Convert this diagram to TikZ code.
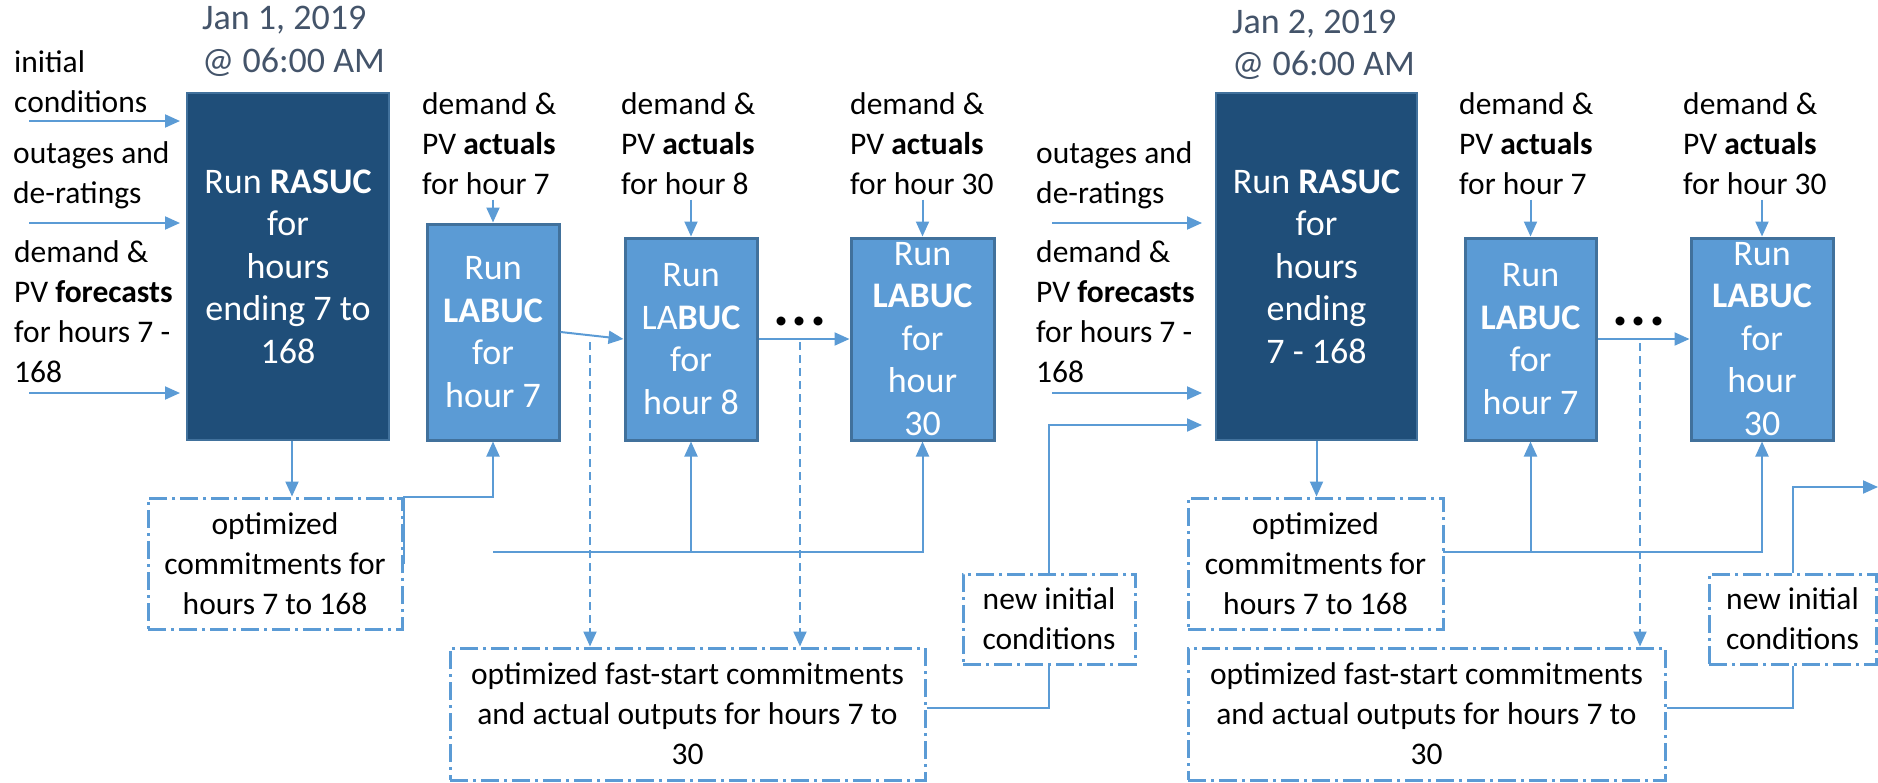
\documentclass[tikz,border=0pt]{standalone}
\usepackage{fontspec}
\setmainfont{Carlito}
\usetikzlibrary{arrows.meta,calc}
\definecolor{darkbox}{HTML}{1F4E79}
\definecolor{midblue}{HTML}{5B9BD5}
\definecolor{edgeblue}{HTML}{41719C}
\definecolor{titlegray}{HTML}{44546A}
\tikzset{
 small/.style={font=\fontsize{31.5}{40}\selectfont, inner sep=0pt},
 lbl/.style={small, align=left, anchor=west},
 big/.style={font=\fontsize{36}{42.5}\selectfont},
 ttl/.style={big, text=titlegray, align=left, anchor=west, inner sep=0pt},
 rasucbox/.style={fill=darkbox, draw=edgeblue, line width=2pt, text=white, align=center, big, inner sep=0pt},
 labucbox/.style={fill=midblue, draw=edgeblue, line width=3pt, text=white, align=center, big, inner sep=0pt},
 ddbox/.style={draw=midblue, line width=3pt, dash pattern=on 18pt off 5pt on 3pt off 5pt, small, align=center, inner sep=0pt},
 conn/.style={draw=midblue, line width=2pt},
 arr/.style={conn, -{Triangle[length=15pt,width=13pt]}},
 darr/.style={arr, dash pattern=on 8pt off 5pt},
 dotsnode/.style={font=\fontsize{60}{60}\selectfont\bfseries, inner sep=0pt, anchor=base},
}
\begin{document}
\begin{tikzpicture}[x=1pt,y=-1pt]
\useasboundingbox (0,0) rectangle (1878,782);

% ---------- first day ----------
\node[ttl] (t1) at (202,41.5) {Jan 1, 2019\\@ 06:00 AM};
\node[lbl] (a1) at (14,82) {initial\\conditions};
\node[lbl] (a2) at (13,175) {outages and\\de-ratings};
\node[lbl] (a3) at (14,312) {demand \&\\PV \textbf{forecasts}\\for hours 7 -\\168};

\node[rasucbox, minimum width=202pt, minimum height=347pt] (R1) at (288,266.5)
  {Run \textbf{RASUC}\\for\\hours\\ending 7 to\\168};

\node[lbl] (p7) at (422,144) {demand \&\\PV \textbf{actuals}\\for hour 7};
\node[lbl] (p8) at (621,144) {demand \&\\PV \textbf{actuals}\\for hour 8};
\node[lbl] (p30) at (850,144) {demand \&\\PV \textbf{actuals}\\for hour 30};

\node[labucbox, minimum width=132pt, minimum height=216pt] (L7) at (493,332)
  {Run\\\textbf{LABUC}\\for\\hour 7};
\node[labucbox, minimum width=132pt, minimum height=202pt] (L8) at (691,339)
  {Run\\LA\textbf{BUC}\\for\\hour 8};
\node[labucbox, minimum width=143pt, minimum height=202pt] (L30) at (922.5,339)
  {Run\\\textbf{LABUC}\\for\\hour\\30};

\node[dotsnode] (dots1) at (800,325) {.\kern2.3pt.\kern2.3pt.};

\node[ddbox, minimum width=254pt, minimum height=131pt] (C1) at (275,563.5)
  {optimized\\commitments for\\hours 7 to 168};
\node[ddbox, minimum width=475pt, minimum height=132pt] (F1) at (687.5,714)
  {optimized fast-start commitments\\and actual outputs for hours 7 to\\30};
\node[ddbox, minimum width=172pt, minimum height=90pt] (N1) at (1049,619)
  {new initial\\conditions};

% ---------- second day ----------
\node[ttl] (t2) at (1232,45) {Jan 2, 2019\\@ 06:00 AM};
\node[lbl] (b2l) at (1036,175) {outages and\\de-ratings};
\node[lbl] (b3l) at (1036,312) {demand \&\\PV \textbf{forecasts}\\for hours 7 -\\168};

\node[rasucbox, minimum width=201pt, minimum height=347pt] (R2) at (1316.5,266.5)
  {Run \textbf{RASUC}\\for\\hours\\ending\\7 - 168};

\node[lbl] (q7) at (1459,144) {demand \&\\PV \textbf{actuals}\\for hour 7};
\node[lbl] (q30) at (1683,144) {demand \&\\PV \textbf{actuals}\\for hour 30};

\node[labucbox, minimum width=131pt, minimum height=202pt] (M7) at (1530.5,339)
  {Run\\\textbf{LABUC}\\for\\hour 7};
\node[labucbox, minimum width=142pt, minimum height=202pt] (M30) at (1762,339)
  {Run\\\textbf{LABUC}\\for\\hour\\30};

\node[dotsnode] (dots2) at (1639,325) {.\kern2.3pt.\kern2.3pt.};

\node[ddbox, minimum width=255pt, minimum height=131pt] (C2) at (1315.5,563.5)
  {optimized\\commitments for\\hours 7 to 168};
\node[ddbox, minimum width=477pt, minimum height=132pt] (F2) at (1426.5,714)
  {optimized fast-start commitments\\and actual outputs for hours 7 to\\30};
\node[ddbox, minimum width=167pt, minimum height=90pt] (N2) at (1792.5,619)
  {new initial\\conditions};

% ---------- free ends ----------
\coordinate (i1) at (29,121);
\coordinate (i2) at (29,223);
\coordinate (i3) at (29,393);
\coordinate (j2) at (1052,223);
\coordinate (j3) at (1052,393);
\coordinate (bus1) at (493,552);
\coordinate (bus2) at (1443,552);
\coordinate (r2in) at (1202,425);
\coordinate (outR) at (1878,487);

% ---------- connectors, first day ----------
\draw[arr] (i1) -- ($(i1 -| R1.west)+(-6,0)$);
\draw[arr] (i2) -- ($(i2 -| R1.west)+(-6,0)$);
\draw[arr] (i3) -- ($(i3 -| R1.west)+(-6,0)$);

\draw[arr] ($(L7.north)+(0,-23)$) -- (L7.north);
\draw[arr] ($(L8.north)+(0,-37)$) -- (L8.north);
\draw[arr] ($(L30.north)+(0,-37)$) -- (L30.north);

\draw[arr] (L7.east) -- (L8.west);
\draw[arr] (L8.east) -- (L30.west);

\draw[arr] (R1.south -| 292,0) -- (C1.north -| 292,0);
\draw[arr] (C1.east) -- (C1.north east) -- (C1.north east -| L7.south) -- (L7.south);
\draw[arr] (bus1) -| (L8.south);
\draw[arr] (bus1) -| (L30.south);

\draw[darr] (590,342) -- (F1.north -| 590,0);
\draw[darr] (800,342) -- (F1.north -| 800,0);

\draw[conn] ($(F1.east)+(0,-6)$) -| (N1.south);
\draw[arr] (N1.north) |- (r2in);

% ---------- connectors, second day ----------
\draw[arr] (j2) -- ($(j2 -| R2.west)+(-13,0)$);
\draw[arr] (j3) -- ($(j3 -| R2.west)+(-13,0)$);

\draw[arr] ($(M7.north)+(0,-37)$) -- (M7.north);
\draw[arr] ($(M30.north)+(0,-37)$) -- (M30.north);
\draw[arr] (M7.east) -- (M30.west);

\draw[arr] (R2.south) -- (R2.south |- C2.north);
\draw[arr] (bus2) -| (M7.south);
\draw[arr] (bus2) -| (M30.south);

\draw[darr] (1640,343) -- (F2.north -| 1640,0);

\draw[conn] ($(F2.east)+(0,-6)$) -| (N2.south);
\draw[arr] (N2.north) |- (outR);
\end{tikzpicture}
\end{document}
